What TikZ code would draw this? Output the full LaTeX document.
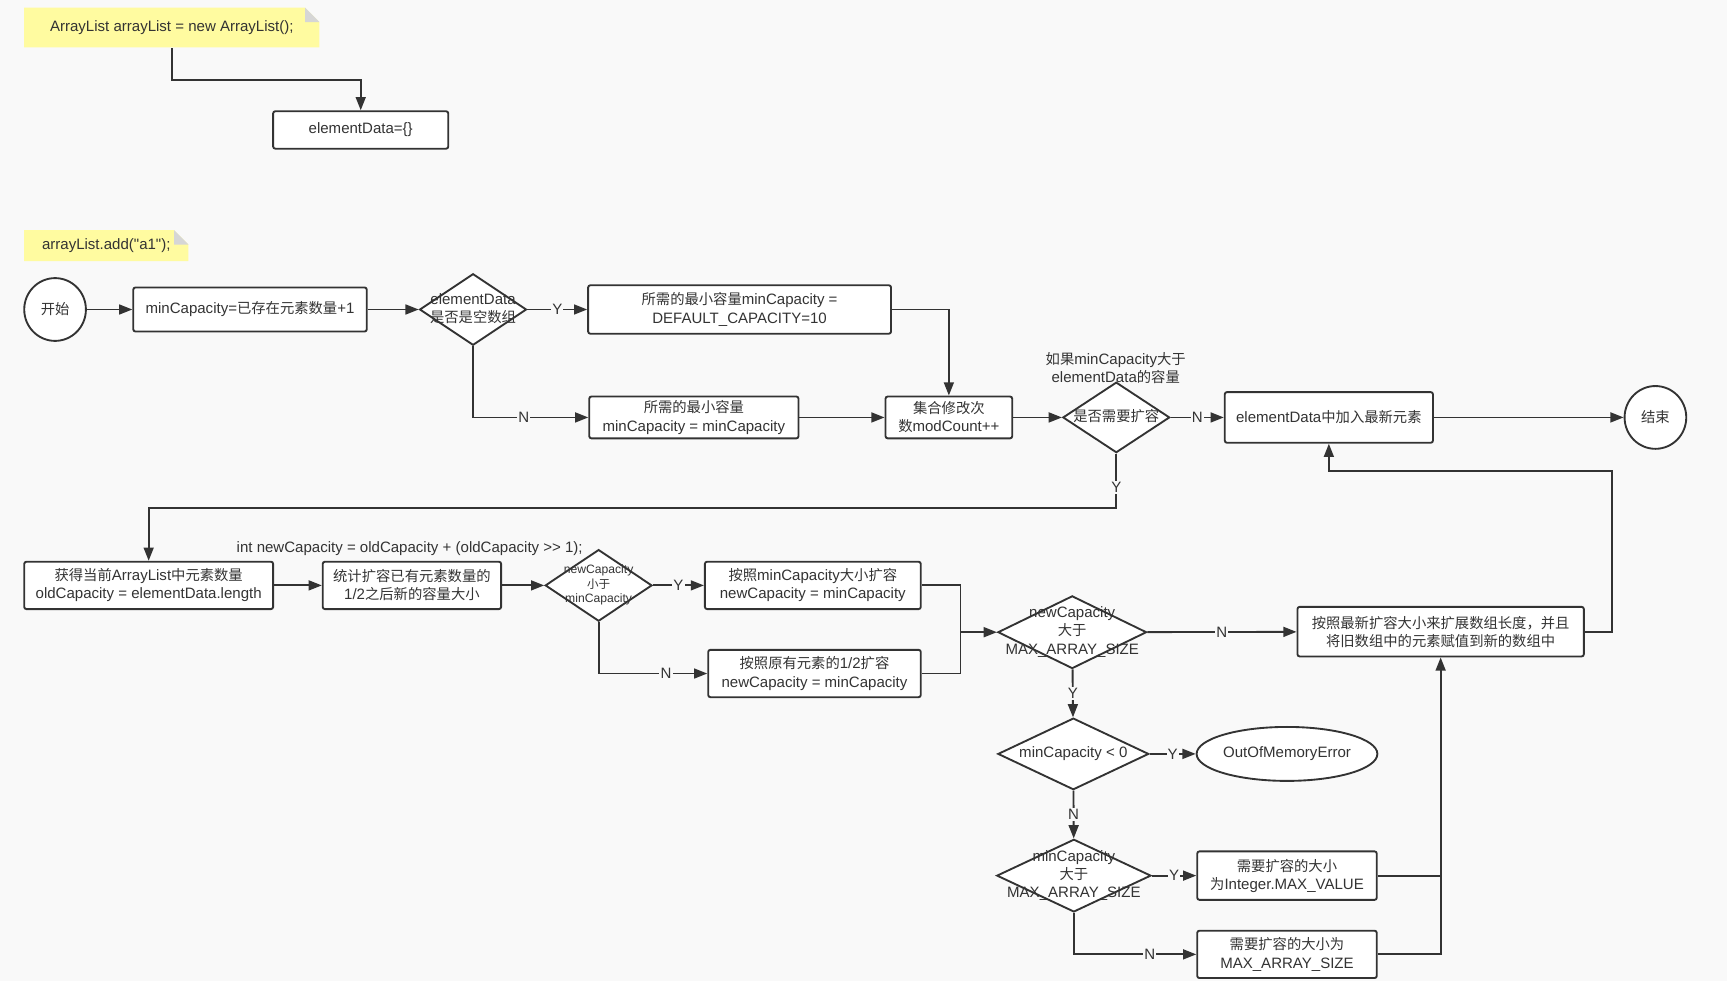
\documentclass[tikz,border=0pt]{standalone}
\usepackage{fontspec}
\usetikzlibrary{arrows.meta,shapes.geometric}
\newfontfamily\latin[Scale=1.05]{Liberation Sans}
\newfontfamily\cjk{Noto Sans CJK SC}
\newXeTeXintercharclass\cjkcls
\count255="2E80
\loop\XeTeXcharclass\count255=\cjkcls\ifnum\count255<"9FFF\advance\count255 by 1\repeat
\count255="FF00
\loop\XeTeXcharclass\count255=\cjkcls\ifnum\count255<"FFEF\advance\count255 by 1\repeat
\XeTeXinterchartoks 0 \cjkcls={\cjk}
\XeTeXinterchartoks 4095 \cjkcls={\cjk}
\XeTeXinterchartoks \cjkcls 0={\latin}
\XeTeXinterchartoks \cjkcls 4095={\latin}
\XeTeXinterchartokenstate=1
\definecolor{bgc}{HTML}{F9F9F9}
\definecolor{lc}{HTML}{333333}
\definecolor{notey}{HTML}{FFFBA0}
\definecolor{foldc}{HTML}{D6D6D6}
\newcommand{\dtext}[1]{\makebox[0pt]{\begin{tabular}{@{}c@{}}#1\end{tabular}}}
\begin{document}
\begin{tikzpicture}[x=1pt,y=-1pt,>={Triangle[length=12pt,width=9pt]},
  color=lc,line width=1.7pt,font=\latin\fontsize{13}{16.5}\selectfont,
  box/.style={draw=lc,fill=white,rounded corners=2pt,align=center,inner sep=0pt},
  dia/.style={draw=lc,fill=white,shape=diamond,inner sep=0pt},
  oval/.style={draw=lc,fill=white,ellipse,inner sep=0pt},
  lbl/.style={fill=bgc,inner sep=1pt},
  note/.style={fill=bgc,inner sep=0pt,path picture={
    \fill[notey] (path picture bounding box.south west) -- (path picture bounding box.north west)
      -- ([xshift=-13pt]path picture bounding box.north east) -- ([yshift=-13pt]path picture bounding box.north east)
      -- (path picture bounding box.south east) -- cycle;
    \fill[foldc] ([xshift=-13pt]path picture bounding box.north east) -- ([xshift=-13pt,yshift=-13pt]path picture bounding box.north east)
      -- ([yshift=-13pt]path picture bounding box.north east) -- cycle;}},
  small/.style={font=\latin\fontsize{10.5}{13}\selectfont}]
\fill[bgc,use as bounding box] (0,0) rectangle (1568,891);

\node[note,minimum width=268,minimum height=36] (note1) at (156,25) {ArrayList arrayList = new ArrayList();};
\node[box,minimum width=159,minimum height=34] (init) at (327.5,118) {elementData=\{\}};
\draw[->] (note1.south) -- ++(0,29) -| (init.north);

\node[note,minimum width=149,minimum height=28] (note2) at (96.5,223) {arrayList.add("a1");};
\node[oval,minimum width=56,minimum height=57] (start) at (50,281) {开始};
\node[box,minimum width=212,minimum height=40] (calc) at (227,281) {minCapacity=已存在元素数量+1};
\node[dia,minimum width=97,minimum height=65] (isEmpty) at (429.5,281) {\dtext{elementData\\是否是空数组}};
\node[box,minimum width=275,minimum height=44] (defCap) at (671.5,281) {所需的最小容量minCapacity =\\DEFAULT\_CAPACITY=10};
\node[box,minimum width=190,minimum height=38] (minCap) at (630,379) {所需的最小容量\\minCapacity = minCapacity};
\node[box,minimum width=115,minimum height=38] (modCnt) at (861.5,379) {集合修改次\\数modCount++};
\node[dia,minimum width=97,minimum height=64] (needGrow) at (1013.5,379) {\dtext{是否需要扩容}};
\node[align=center] (hint1) at (1013,334) {如果minCapacity大于\\elementData的容量};
\node[box,minimum width=189,minimum height=46] (addElem) at (1206.5,379) {elementData中加入最新元素};
\node[oval,minimum width=56,minimum height=57] (stop) at (1503,379) {结束};

\node[box,minimum width=226,minimum height=43] (oldCap) at (135,531.5) {获得当前ArrayList中元素数量\\oldCapacity = elementData.length};
\node[box,minimum width=162,minimum height=43] (newCap) at (374,531.5) {统计扩容已有元素数量的\\1/2之后新的容量大小};
\node (hint2) at (372,498) {int newCapacity = oldCapacity + (oldCapacity >> 1);};
\node[dia,small,minimum width=97,minimum height=65] (lessMin) at (543.5,531.5) {\dtext{newCapacity\\小于\\minCapacity}};
\node[box,minimum width=196,minimum height=43] (useMin) at (738,531.5) {按照minCapacity大小扩容\\newCapacity = minCapacity};
\node[box,minimum width=193,minimum height=43] (useHalf) at (739.5,611.5) {按照原有元素的1/2扩容\\newCapacity = minCapacity};
\coordinate (join1) at (872,574);
\node[dia,minimum width=135,minimum height=66] (overMax) at (973.5,574) {\dtext{newCapacity\\大于\\MAX\_ARRAY\_SIZE}};
\node[box,minimum width=260,minimum height=45] (growArr) at (1308,573.5) {按照最新扩容大小来扩展数组长度，并且\\将旧数组中的元素赋值到新的数组中};
\node[dia,minimum width=137,minimum height=65] (negMin) at (974.5,684.5) {\dtext{minCapacity < 0}};
\node[oval,minimum width=157,minimum height=49] (oom) at (1168.5,684.5) {OutOfMemoryError};
\node[dia,minimum width=140,minimum height=66] (minOver) at (975,795) {\dtext{minCapacity\\大于\\MAX\_ARRAY\_SIZE}};
\node[box,minimum width=163,minimum height=44] (useInt) at (1168.5,795) {需要扩容的大小\\为Integer.MAX\_VALUE};
\node[box,minimum width=163,minimum height=43] (useMax) at (1168.5,866.5) {需要扩容的大小为\\MAX\_ARRAY\_SIZE};

\draw[->] (start) -- (calc);
\draw[->] (calc) -- (isEmpty);
\draw[->] (isEmpty) -- node[lbl]{Y} (defCap);
\draw[->] (isEmpty.south) |- node[lbl,pos=0.72]{N} (minCap.west);
\draw[->] (defCap.east) -| (modCnt.north);
\draw[->] (minCap) -- (modCnt);
\draw[->] (modCnt) -- (needGrow);
\draw[->] (needGrow) -- node[lbl]{N} (addElem);
\draw[->] (addElem) -- (stop);
\draw[->] (needGrow.south) -- ++(0,49) node[lbl,pos=0.63]{Y} -| (oldCap.north);
\draw[->] (oldCap) -- (newCap);
\draw[->] (newCap) -- (lessMin);
\draw[->] (lessMin) -- node[lbl]{Y} (useMin);
\draw[->] (lessMin.south) |- node[lbl,pos=0.81]{N} (useHalf.west);
\draw (useMin.east) -| (join1);
\draw (useHalf.east) -| (join1);
\draw[->] (join1) -- (overMax.west);
\draw[->] (overMax) -- node[lbl]{N} (growArr);
\draw[->] (growArr.east) -| ++(25,-146) -| (addElem.south);
\draw[->] (overMax) -- node[lbl]{Y} (negMin);
\draw[->] (negMin) -- node[lbl]{Y} (oom);
\draw[->] (negMin) -- node[lbl]{N} (minOver);
\draw[->] (minOver) -- node[lbl]{Y} (useInt);
\draw[->] (minOver.south) |- node[lbl,pos=0.81]{N} (useMax.west);
\draw (useInt.east) -- (useInt.east -| growArr.south);
\draw[->] (useMax.east) -| (growArr.south);
\end{tikzpicture}
\end{document}
